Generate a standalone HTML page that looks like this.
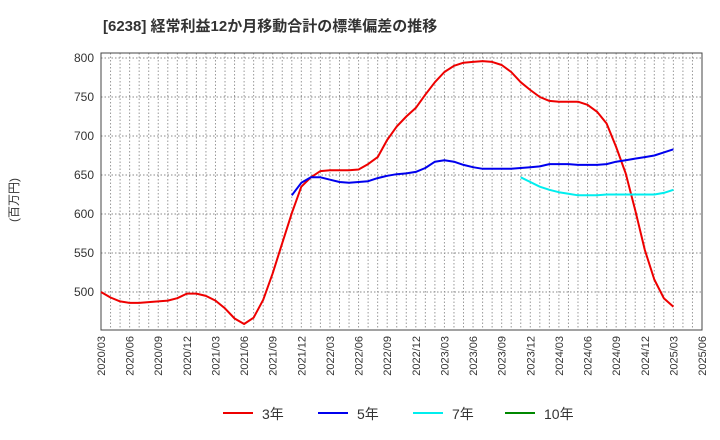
<!DOCTYPE html>
<html><head><meta charset="utf-8"><style>
body{margin:0;background:#fff;}
svg{display:block;font-family:"Liberation Sans","Noto Sans CJK JP",sans-serif;}
</style></head><body>
<svg id="chart" width="720" height="440">
<text x="103" y="31" font-size="15" font-weight="bold" fill="#333">[6238]  経常利益12か月移動合計の標準偏差の推移</text>
<text transform="translate(18,200) rotate(-90)" text-anchor="middle" font-size="12" fill="#333">(百万円)</text>
<g id="grid"></g><g id="axes"></g><g id="series"></g><g id="legend"></g>
</svg>
<script>
const tickLabels=["2020/03","2020/06","2020/09","2020/12","2021/03","2021/06","2021/09","2021/12","2022/03","2022/06","2022/09","2022/12","2023/03","2023/06","2023/09","2023/12","2024/03","2024/06","2024/09","2024/12","2025/03","2025/06"];
const yTicks=[500,550,600,650,700,750,800];
const s3=[500,493,488,486,486,487,488,489,492,498,498,495,489,479,466,459,467,490,524,563,601,635,647,655,656,656,656,657,664,673,695,712,725,736,753,769,782,790,794,795,796,795,791,782,769,759,750,745,744,744,744,740,731,716,686,652,605,554,516,492,481];
const s5=[null,null,null,null,null,null,null,null,null,null,null,null,null,null,null,null,null,null,null,null,624,640,647,647,644,641,640,641,642,646,649,651,652,654,659,667,669,667,663,660,658,658,658,658,659,660,661,664,664,664,663,663,663,664,667,669,671,673,675,679,683];
const s7=[null,null,null,null,null,null,null,null,null,null,null,null,null,null,null,null,null,null,null,null,null,null,null,null,null,null,null,null,null,null,null,null,null,null,null,null,null,null,null,null,null,null,null,null,647,641,635,631,628,626,624,624,624,625,625,625,625,625,625,627,631];
const s10=[];
const L=101,R=702,T=53,B=330;
const NM=63;
const xs=i=>L+(R-L)*i/NM;
const ys=v=>58+(800-v)*39/50;
const NS="http://www.w3.org/2000/svg";
function mk(tag,attrs,parent){const e=document.createElementNS(NS,tag);for(const k in attrs)e.setAttribute(k,attrs[k]);parent.appendChild(e);return e;}
const grid=document.getElementById('grid'),axes=document.getElementById('axes'),ser=document.getElementById('series'),leg=document.getElementById('legend');
for(let i=1;i<NM;i++){const l=mk('line',{x1:xs(i),x2:xs(i),y1:T,y2:B,stroke:'#999','stroke-dasharray':'1.5,2','stroke-width':1},grid);

}
yTicks.forEach(v=>{const l=mk('line',{x1:L,x2:R,y1:ys(v),y2:ys(v),stroke:'#888','stroke-dasharray':'1.5,2','stroke-width':1},grid);


const t=mk('text',{x:94,y:ys(v)+4,'text-anchor':'end','font-size':12,fill:'#333'},axes);t.textContent=v;

});
const box=mk('rect',{x:L,y:T,width:R-L,height:B-T,fill:'none',stroke:'#444','stroke-width':1},axes);


tickLabels.forEach((s,i)=>{const x=xs(i*3);const t=mk('text',{transform:`translate(${x+4},${B+6}) rotate(-90)`,'text-anchor':'end','font-size':11,fill:'#333'},axes);t.textContent=s;

});
function draw(arr,color,name){let d='';let pen=false;arr.forEach((v,i)=>{if(v==null){pen=false;return;}d+=(pen?'L':'M')+xs(i).toFixed(1)+','+ys(v).toFixed(1);pen=true;});
if(!d)return;const p=mk('path',{d:d,fill:'none',stroke:color,'stroke-width':2,'stroke-linejoin':'round'},ser);

}
draw(s3,'#ee0000','series-3y-line');draw(s5,'#0000ee','series-5y-line');draw(s7,'#00eeee','series-7y-line');draw(s10,'#008800','series-10y-line');
[['3年','#ee0000',223],['5年','#0000ee',318],['7年','#00eeee',413],['10年','#008800',505]].forEach(([n,c,x])=>{
const g=mk('g',{},leg);


mk('line',{x1:x,x2:x+30,y1:413,y2:413,stroke:c,'stroke-width':2},g);
const t=mk('text',{x:x+39,y:419,'font-size':14,fill:'#333'},g);t.textContent=n;});
</script>
</body></html>
